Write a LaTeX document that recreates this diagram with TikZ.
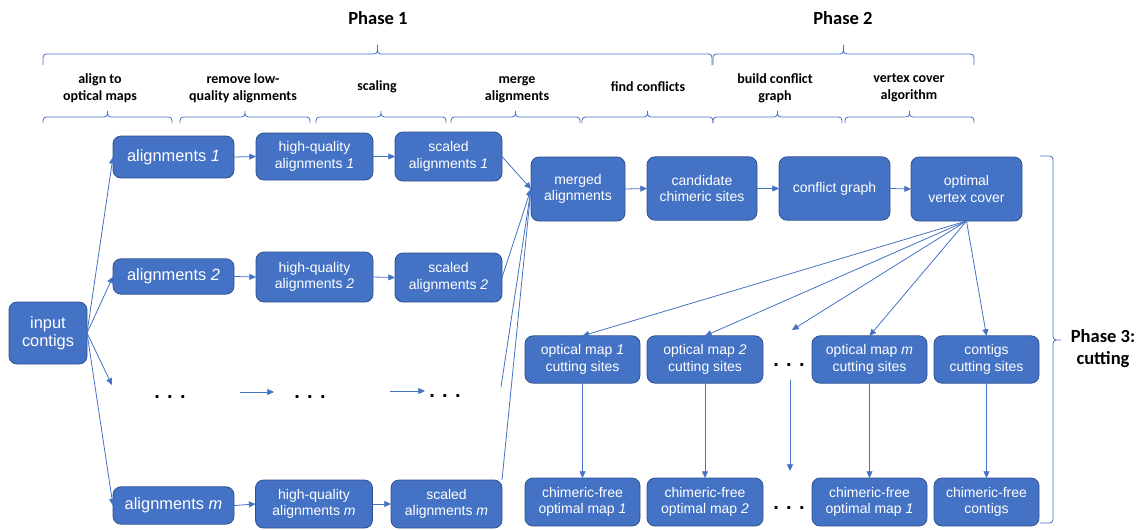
\documentclass[tikz,border=0pt]{standalone}
\usepackage{fontspec}
\setmainfont{Liberation Sans}
\newfontfamily\hdfont{Carlito}
\usetikzlibrary{arrows.meta,positioning,calc}
\definecolor{ofblue}{HTML}{4472C4}
\definecolor{ofedge}{HTML}{2F528F}

\begin{document}
\begin{tikzpicture}[x=0.75pt, y=-0.75pt,
    box/.style={rectangle, draw=ofedge, line width=0.6pt, fill=ofblue, rounded corners=6pt, text=white, align=center, inner sep=1pt, outer sep=0pt, font=\fontsize{10.5}{12.5}\selectfont},
    bigbox/.style={box, font=\fontsize{12.3}{13.8}\selectfont},
    alnbox/.style={bigbox, minimum width=90.75pt, minimum height=28pt},
    hqbox/.style={box, minimum width=87.75pt, minimum height=36pt},
    scbox/.style={box, minimum width=80.25pt, minimum height=36.75pt},
    topbox/.style={box, minimum width=83.25pt, minimum height=47.5pt},
    cutbox/.style={box, minimum width=86.25pt, minimum height=35.5pt},
    arr/.style={-{Triangle[length=5pt,width=4.5pt]}, draw=ofblue, line width=0.6pt},
    brc/.style={draw=ofblue, line width=0.6pt, rounded corners=2.5pt},
    hdr/.style={font=\hdfont\bfseries\fontsize{10.5}{12.75}\selectfont, align=center, inner sep=0pt},
    phase/.style={font=\hdfont\bfseries\fontsize{13.9}{16.5}\selectfont, align=center, inner sep=0pt},
    dots/.style={font=\bfseries\fontsize{15}{15}\selectfont, inner sep=0pt}
]
    \useasboundingbox (0,0) rectangle (1143,529);

    % headers and braces
    \node[phase] (ph1) at (378,18) {Phase 1};
    \node[phase] (ph2) at (843,18) {Phase 2};
    \node[phase] (ph3) at (1103,349) {Phase 3:\\cutting};
    \foreach \xa/\xb in {43/712, 713/974}
        \draw[brc] (\xa,65) |- ({(\xa+\xb)/2},54) -- ({(\xa+\xb)/2},43) -- ({(\xa+\xb)/2},54) -| (\xb,65);
    \draw[brc] (1040,156) -| (1053,340) -- (1063,340) -- (1053,340) |- (1040,523);

    \node[hdr] (t1) at (100,88) {align to\\optical maps};
    \node[hdr] (t2) at (243,88) {remove low-\\quality alignments};
    \node[hdr] (t3) at (377,87) {scaling};
    \node[hdr] (t4) at (517,90) {merge\\alignments};
    \node[hdr] (t5) at (648,87) {find conflicts};
    \node[hdr] (t6) at (775,88) {build conflict\\graph};
    \node[hdr] (t7) at (909,88) {vertex cover\\algorithm};
    \foreach \xa/\xb in {43/172, 180/310, 316/446, 451/580, 582/713, 713/842, 845/974}
        \draw[brc] (\xa,123) |- ({(\xa+\xb)/2},117) -- ({(\xa+\xb)/2},109) -- ({(\xa+\xb)/2},117) -| (\xb,123);

    % phase 1
    \node[bigbox, minimum width=58.5pt, minimum height=46.5pt] (in) at (48,333) {input\\contigs};
    \node[alnbox, minimum height=31.5pt] (a1) at (173.5,157) {alignments \textit{1}};
    \node[alnbox, minimum height=26.5pt] (a2) at (173.5,276.5) {alignments \textit{2}};
    \node[alnbox] (am) at (173.5,505.5) {alignments \textit{m}};
    \node[hqbox, minimum height=35.25pt] (h1) at (314.5,156.5) {high-quality\\alignments \textit{1}};
    \node[hqbox, minimum height=37.5pt] (h2) at (314.5,277) {high-quality\\alignments \textit{2}};
    \node[hqbox] (hm) at (314,504) {high-quality\\alignments \textit{m}};
    \node[scbox] (s1) at (448.5,156.5) {scaled\\alignments \textit{1}};
    \node[scbox] (s2) at (448.5,277.5) {scaled\\alignments \textit{2}};
    \node[scbox, minimum width=83.25pt, minimum height=36pt] (sm) at (446.5,504) {scaled\\alignments \textit{m}};
    \node[dots] (d1) at (170,397) {. . .};
    \node[dots] (d2) at (310,397) {. . .};
    \node[dots] (d3) at (445,396) {. . .};
    \coordinate (e1) at (112,385);
    \coordinate (e2) at (240,392);
    \coordinate (e3) at (274,392);
    \coordinate (e4) at (390,391);
    \coordinate (e5) at (425,391);
    \coordinate (e6) at (501,387);

    % phase 2
    \node[topbox, minimum width=70.5pt, minimum height=48pt] (mg) at (578,189) {merged\\alignments};
    \node[topbox, minimum width=82.5pt] (cd) at (702,188.5) {candidate\\chimeric sites};
    \node[topbox] (cg) at (834.5,188.5) {conflict graph};
    \node[topbox, minimum height=48pt] (ov) at (966.5,189) {optimal\\vertex cover};

    % phase 3
    \node[cutbox] (c1) at (582.5,359.5) {optical map \textit{1}\\cutting sites};
    \node[cutbox, minimum width=87pt] (c2) at (705,359.5) {optical map \textit{2}\\cutting sites};
    \node[cutbox] (cm) at (869.5,359.5) {optical map \textit{m}\\cutting sites};
    \node[cutbox, minimum width=78.75pt] (cc) at (986.5,359.5) {contigs\\cutting sites};
    \node[cutbox, minimum height=36pt] (f1) at (582.5,502) {chimeric-free\\optimal map \textit{1}};
    \node[cutbox, minimum width=87pt, minimum height=36pt] (f2) at (705,502) {chimeric-free\\optimal map \textit{2}};
    \node[cutbox, minimum height=36pt] (fm) at (869.5,502) {chimeric-free\\optimal map \textit{1}};
    \node[cutbox, minimum width=78.75pt, minimum height=36pt] (fc) at (986.5,502) {chimeric-free\\contigs};
    \node[dots] (dt) at (789,365) {. . .};
    \node[dots] (db) at (789,508) {. . .};
    \coordinate (vt) at (792,330);
    \coordinate (v1) at (790,380);
    \coordinate (v2) at (790,471);

    % connectors
    \draw[arr] (in.east) -- (a1.west);
    \draw[arr] (in.east) -- (a2.west);
    \draw[arr] (in.east) -- (e1);
    \draw[arr] (in.east) -- (am.west);
    \draw[arr] (a1.east) -- (h1.west);
    \draw[arr] (a2.east) -- (h2.west);
    \draw[arr] (am.east) -- (hm.west);
    \draw[arr] (h1.east) -- (s1.west);
    \draw[arr] (h2.east) -- (s2.west);
    \draw[arr] (hm.east) -- (sm.west);
    \draw[arr] (e2) -- (e3);
    \draw[arr] (e4) -- (e5);
    \draw[arr] (s1.east) -- (mg.west);
    \draw[arr] (s2.east) -- (mg.west);
    \draw[arr] (e6) -- (mg.west);
    \draw[arr] (sm.north east) -- (mg.west);
    \draw[arr] (mg.east) -- (cd.west);
    \draw[arr] (cd.east) -- (cg.west);
    \draw[arr] (cg.east) -- (ov.west);
    \draw[arr] (ov.south) -- (c1.north);
    \draw[arr] (ov.south) -- (c2.north);
    \draw[arr] (ov.south) -- (vt);
    \draw[arr] (ov.south) -- (cm.north);
    \draw[arr] (ov.south) -- (cc.north);
    \draw[arr] (c1.south) -- (f1.north);
    \draw[arr] (c2.south) -- (f2.north);
    \draw[arr] (v1) -- (v2);
    \draw[arr] (cm.south) -- (fm.north);
    \draw[arr] (cc.south) -- (fc.north);
\end{tikzpicture}
\end{document}
